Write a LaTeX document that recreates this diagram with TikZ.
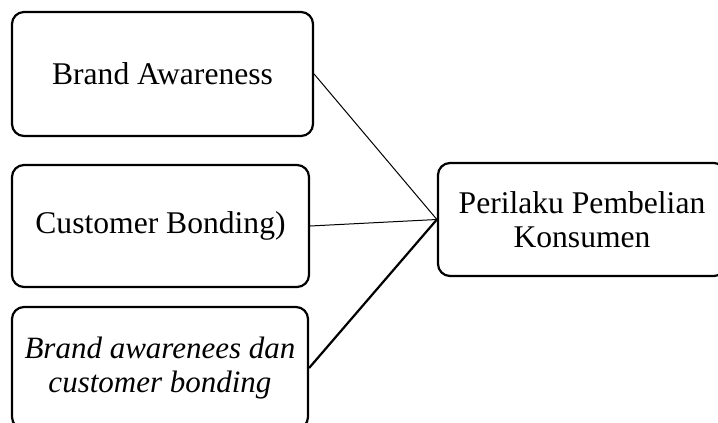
\documentclass[tikz,border=0pt]{standalone}
\usepackage{fontspec}
\setmainfont{Liberation Serif}
\begin{document}
\begin{tikzpicture}[x=0.5pt,y=-0.5pt,
  box/.style={draw, line width=1.1pt, rounded corners=6pt, inner sep=0pt, align=center,
    font=\fontsize{15.8}{17.2}\selectfont},
  conn/.style={line width=0.5pt}]
\useasboundingbox (0,0) rectangle (718,423);
\clip (0,0) rectangle (718,423);
\node[box, minimum width=150.5pt, minimum height=62pt] (b1) at (162.5,74) {Brand Awareness};
\node[box, minimum width=148.5pt, minimum height=61pt] (b2) at (160.5,226) {Customer Bonding)};
\node[box, minimum width=148pt, minimum height=61pt, font=\fontsize{15.5}{17}\selectfont\itshape] (b3) at (160,368) {Brand awarenees dan\\customer bonding};
\node[box, minimum width=144pt, minimum height=56.5pt] (rb) at (582,219.5) {Perilaku Pembelian\\Konsumen};
\draw[conn] (b1.east) -- (rb.west);
\draw[conn] (b2.east) -- (rb.west);
\draw[conn, line width=1.1pt] (b3.east) -- (rb.west);
\end{tikzpicture}
\end{document}
